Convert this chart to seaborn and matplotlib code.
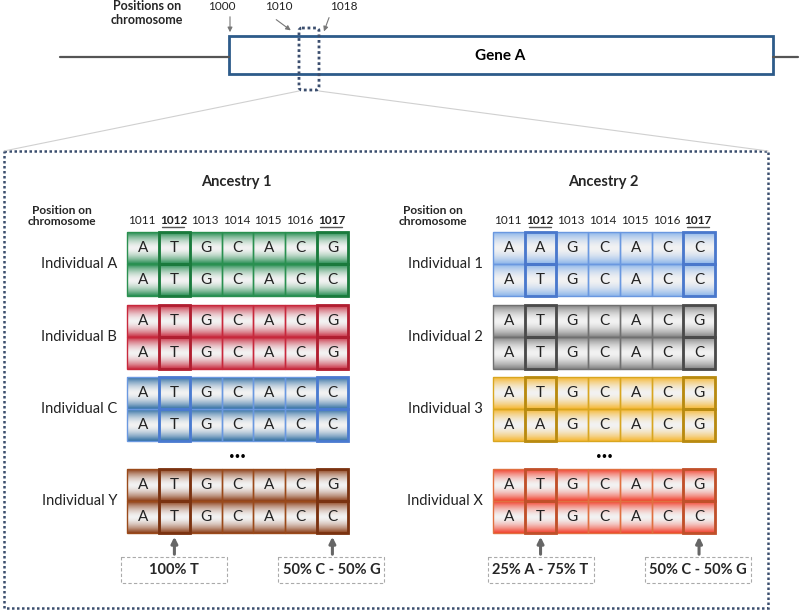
import numpy as np
import matplotlib
matplotlib.use("Agg")
import matplotlib.pyplot as plt
from matplotlib.patches import Rectangle, FancyBboxPatch
from matplotlib.colors import to_rgb
import seaborn as sns

sns.set_theme(style="white")
plt.rcParams['font.family'] = ['Lato', 'DejaVu Sans']

# Daten
positions = [1011, 1012, 1013, 1014, 1015, 1016, 1017]
highlight = [1012, 1017]
gene_ticks = ["1000", "1010", "1018"]

anc1_names = ["Individual A", "Individual B", "Individual C", "Individual Y"]
anc1_seqs = [("ATGCACG", "ATGCACC"), ("ATGCACG", "ATGCACG"),
             ("ATGCACC", "ATGCACC"), ("ATGCACG", "ATGCACC")]
anc1_fill = ["#1f8a4c", "#c8283c", "#2a6aa0", "#8a3a12"]
anc1_edge = ["#2a9050", "#c8283c", "#6a98e0", "#9a4a1a"]
anc1_hi = ["#1a7a3c", "#b01e30", "#4a7ad0", "#7a3210"]
anc1_notes = ["100% T", "50% C - 50% G"]

anc2_names = ["Individual 1", "Individual 2", "Individual 3", "Individual X"]
anc2_seqs = [("AAGCACC", "ATGCACC"), ("ATGCACG", "ATGCACC"),
             ("ATGCACG", "AAGCACG"), ("ATGCACG", "ATGCACC")]
anc2_fill = ["#8ab4ea", "#808080", "#f6b52a", "#f23a26"]
anc2_edge = ["#6a98e0", "#707070", "#d8a620", "#e07040"]
anc2_hi = ["#4a78cc", "#4a4a4a", "#b88a10", "#c0502a"]
anc2_notes = ["25% A - 75% T", "50% C - 50% G"]

frame_col = "#3b4e6e"

fig = plt.figure(figsize=(8, 6.11), dpi=100)
ax = fig.add_axes([0, 0, 1, 1])

# Gen oben
ax.plot([60, 229], [57, 57], color="#555555", lw=1.6)
ax.plot([773, 798], [57, 57], color="#555555", lw=1.6)
ax.add_patch(Rectangle((229, 36), 544, 38, facecolor="white", edgecolor="#2d5b8a", lw=2))
ax.text(500, 56, "Gene A", ha="center", va="center", fontsize=11, fontweight="bold", color="black")
ax.text(147, 13, "Positions on\nchromosome", ha="center", va="center", fontsize=9,
        fontweight="bold", linespacing=1.1)

tick_x = [222, 279, 344]
arrow_from = [(230, 14), (274, 18), (330, 15)]
arrow_to = [(230, 35), (293, 32), (323, 34)]
for lab, tx, a0, a1 in zip(gene_ticks, tick_x, arrow_from, arrow_to):
    ax.text(tx, 7, lab, ha="center", va="center", fontsize=8.5, color="#222222")
    ax.annotate("", xy=a1, xytext=a0,
                arrowprops=dict(arrowstyle="-|>", color="#777777", lw=0.8, mutation_scale=7))

ax.add_patch(FancyBboxPatch((299, 28), 20, 62, boxstyle="round,pad=0,rounding_size=3",
                            facecolor="none", edgecolor=frame_col, lw=2, linestyle=(0, (1, 1))))
ax.plot([299, 4], [91, 151], color="#d0d0d0", lw=0.8)
ax.plot([319, 768], [91, 151], color="#d0d0d0", lw=0.8)
ax.add_patch(Rectangle((4, 151), 764, 457, facecolor="none", edgecolor=frame_col,
                       lw=1.8, linestyle=(0, (1, 1))))

block_tops = [232, 305, 377, 469]
rh = 32


def gradient_img(color, n=40):
    t = (np.arange(n) + 0.5) / n
    w = np.abs(2 * t - 1) ** 1.7
    w = np.concatenate([w, w])
    c = np.array(to_rgb(color))
    mid = np.array([0.95, 0.95, 0.95])
    img = mid[None, :] * (1 - w[:, None]) + c[None, :] * w[:, None]
    return img[:, None, :]


def draw_panel(x0, cw, title, names, seqs, fills, edges, his, notes, title_x, label_x):
    ax.text(title_x, 182, title, ha="center", va="center", fontsize=10.5, fontweight="bold")
    ax.text(label_x, 216, "Position on\nchromosome", ha="center", va="center", fontsize=8.6,
            fontweight="bold", linespacing=1.1)
    for i, p in enumerate(positions):
        cx = x0 + cw * (i + 0.5) - 1
        bold = p in highlight
        ax.text(cx, 220, str(p), ha="center", va="center", fontsize=8.5,
                fontweight="bold" if bold else "normal", color="#222222")
        if bold:
            ax.plot([cx - 11, cx + 11], [227, 227], color="#555555", lw=1)
    w = cw * len(positions)
    for name, seq, fc, ec, hc, top in zip(names, seqs, fills, edges, his, block_tops):
        ax.imshow(gradient_img(fc), extent=[x0, x0 + w, top + 2 * rh, top], aspect="auto",
                  interpolation="bilinear", zorder=1)
        ax.text(x0 - 10, top + rh, name, ha="right", va="center", fontsize=10.5, color="#222222")
        for r, s in enumerate(seq):
            for i, base in enumerate(s):
                ax.add_patch(Rectangle((x0 + i * cw, top + r * rh), cw, rh, facecolor="none",
                                       edgecolor=ec, lw=1, zorder=2))
                ax.text(x0 + cw * (i + 0.5), top + r * rh + rh / 2, base, ha="center",
                        va="center", fontsize=11, color="#222222", zorder=4)
            for p in highlight:
                i = positions.index(p)
                ax.add_patch(Rectangle((x0 + i * cw, top + r * rh), cw, rh, facecolor="none",
                                       edgecolor=hc, lw=2, zorder=3))
    ax.text(x0 + w / 2, 456, "•••", ha="center", va="center", fontsize=7, color="black")
    # Anmerkungen
    for p, note in zip(highlight, notes):
        i = positions.index(p)
        cx = x0 + cw * (i + 0.5)
        ax.annotate("", xy=(cx, block_tops[-1] + 2 * rh + 1), xytext=(cx, 557),
                    arrowprops=dict(arrowstyle="-|>", color="#666666", lw=2.2, mutation_scale=9))
        bx = cx - 53 if p == highlight[0] else cx - 54
        ax.add_patch(Rectangle((bx, 557), 106, 26, facecolor="white", edgecolor="#aaaaaa",
                               lw=0.8, linestyle=(0, (3, 2))))
        ax.text(bx + 53, 570, note, ha="center", va="center", fontsize=10.5, fontweight="bold")


draw_panel(127, 31.6, "Ancestry 1", anc1_names, anc1_seqs, anc1_fill, anc1_edge, anc1_hi,
           anc1_notes, 236, 62)
draw_panel(493, 31.7, "Ancestry 2", anc2_names, anc2_seqs, anc2_fill, anc2_edge, anc2_hi,
           anc2_notes, 603, 433)

ax.set_xlim(0, 800)
ax.set_ylim(611, 0)
ax.axis("off")
fig.savefig("out.png", dpi=100)
